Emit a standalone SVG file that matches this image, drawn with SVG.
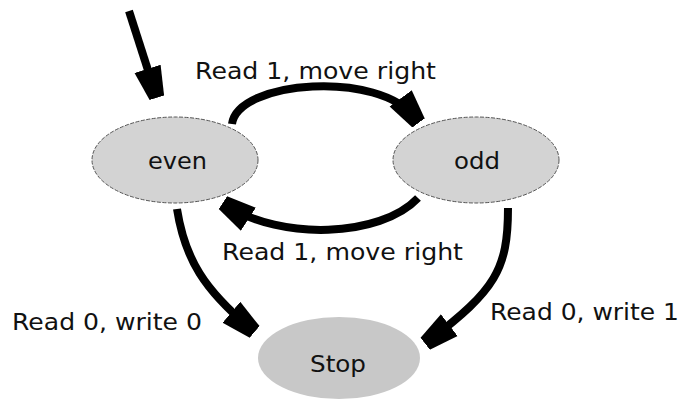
<svg xmlns="http://www.w3.org/2000/svg" width="683" height="399" viewBox="0 0 683 399">
<style>
.st{fill:#d3d3d3;stroke:#555;stroke-width:1;stroke-dasharray:4,1.5}
.stop{fill:#c8c8c8}
.t{font-family:"DejaVu Sans",sans-serif;font-size:22.5px;fill:#111}
.c{fill:none;stroke:#000;stroke-width:8}
</style>
<defs>
<marker id="ah" viewBox="0 0 10 10" refX="8" refY="5" markerWidth="3.8" markerHeight="3.8" orient="auto" markerUnits="strokeWidth">
<path d="M0,0.5 L10,2.5 L10,7.5 L0,9.5 Z" fill="#000"/>
</marker>
</defs>
<g id="connectors">
<path class="c" d="M129,11 L155,92" marker-end="url(#ah)"/>
<path class="c" d="M232,124 C238,80 380,70 415,118" marker-end="url(#ah)"/>
<path class="c" d="M418,198 C380,238 280,240 228,206" marker-end="url(#ah)"/>
<path class="c" d="M177,209 C185,260 205,290 250,328" marker-end="url(#ah)"/>
<path class="c" d="M508,208 C508,270 495,290 430,340" marker-end="url(#ah)"/>
</g>
<g id="even"><ellipse class="st" cx="175" cy="160" rx="83" ry="43"/><text class="t" x="148" y="169" textLength="59" lengthAdjust="spacingAndGlyphs">even</text></g>
<g id="odd"><ellipse class="st" cx="476" cy="160" rx="83" ry="43"/><text class="t" x="454" y="169" textLength="46" lengthAdjust="spacingAndGlyphs">odd</text></g>
<g id="stop"><ellipse class="stop" cx="339" cy="358" rx="81" ry="41"/><text class="t" x="310" y="372" textLength="56" lengthAdjust="spacingAndGlyphs">Stop</text></g>
<g id="labels">
<text class="t" x="195" y="79" textLength="241" lengthAdjust="spacingAndGlyphs">Read 1, move right</text>
<text class="t" x="222" y="260" textLength="241" lengthAdjust="spacingAndGlyphs">Read 1, move right</text>
<text class="t" x="12" y="330" textLength="190" lengthAdjust="spacingAndGlyphs">Read 0, write 0</text>
<text class="t" x="490" y="320" textLength="189" lengthAdjust="spacingAndGlyphs">Read 0, write 1</text>
</g>
</svg>
